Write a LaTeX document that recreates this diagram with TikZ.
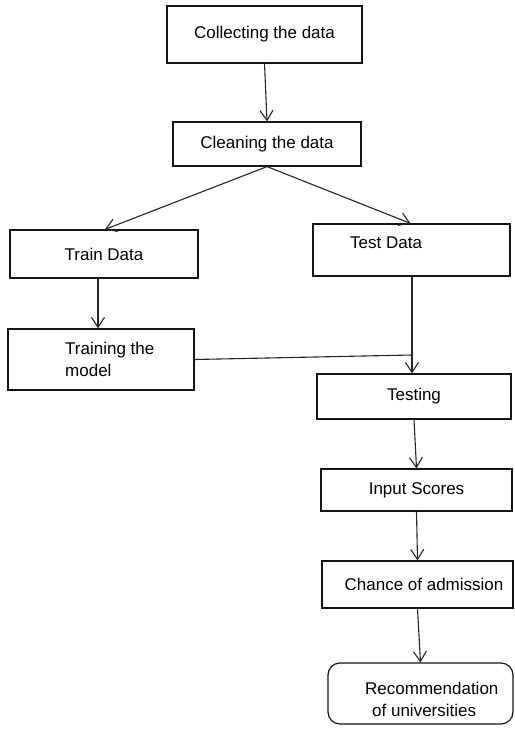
\documentclass[tikz,border=0pt]{standalone}
\usepackage{fontspec}
\setmainfont{Liberation Sans}
\usetikzlibrary{arrows.meta}
\begin{document}
\begin{tikzpicture}[x=1pt,y=-1pt,
  box/.style={draw=black!92, line width=1.2pt, rectangle, inner sep=0pt,
    font=\fontsize{17}{22}\selectfont},
  lbl/.style={inner sep=0pt, font=\fontsize{17}{22}\selectfont, align=left},
  conn/.style={draw=black!85, line width=1.1pt},
  arr/.style={conn, -{Straight Barb[length=10pt,width=13pt,line width=1.1pt]}}]
\useasboundingbox[fill=white] (0,0) rectangle (514,735);

\node[box, minimum width=195pt, minimum height=57pt] (collect) at (264.5,34.5) {Collecting the data};
\node[box, minimum width=188pt, minimum height=44pt] (clean) at (267,144) {Cleaning the data};
\node[box, minimum width=188pt, minimum height=48pt] (train) at (104,254) {Train Data};
\node[box, minimum width=197pt, minimum height=52pt] (test) at (411.5,250) {};
\node[lbl, anchor=west] (testlbl) at (350,243) {Test Data};
\node[box, minimum width=186pt, minimum height=61pt] (training) at (101,359.5) {};
\node[lbl, anchor=west] (traininglbl) at (65,359) {Training the\\model};
\node[box, minimum width=194pt, minimum height=45pt] (testing) at (414,396.5) {Testing};
\node[box, minimum width=191pt, minimum height=42pt] (input) at (416.5,490) {Input Scores};
\node[box, minimum width=191pt, minimum height=47pt] (chance) at (417.5,584.5) {};
\node[lbl] (chancelbl) at (424,584) {Chance of admission};
\node[box, rounded corners=12pt, minimum width=185pt, minimum height=61pt] (rec) at (420.5,693.5) {};
\node[lbl, anchor=west] (reclbl) at (365,699) {Recommendation\\\hspace*{7pt}of universities};

\coordinate (j) at (412,355);

\draw[arr] (collect.south) -- (clean.north);
\draw[arr] (clean.south) -- ([xshift=1pt]train.north);
\draw[arr] (clean.south) -- ([xshift=-1pt]test.north);
\draw[arr] ([xshift=-6pt]train.south) -- ([xshift=-6pt]train.south |- training.north);
\draw[arr] ([xshift=0.5pt]test.south) -- ([xshift=0.5pt]test.south |- testing.north);
\draw[conn] (training.east) -- (j);
\draw[arr] (testing.south) -- (input.north);
\draw[arr] (input.south) -- (chance.north);
\draw[arr] (chance.south) -- (rec.north);
\end{tikzpicture}
\end{document}
